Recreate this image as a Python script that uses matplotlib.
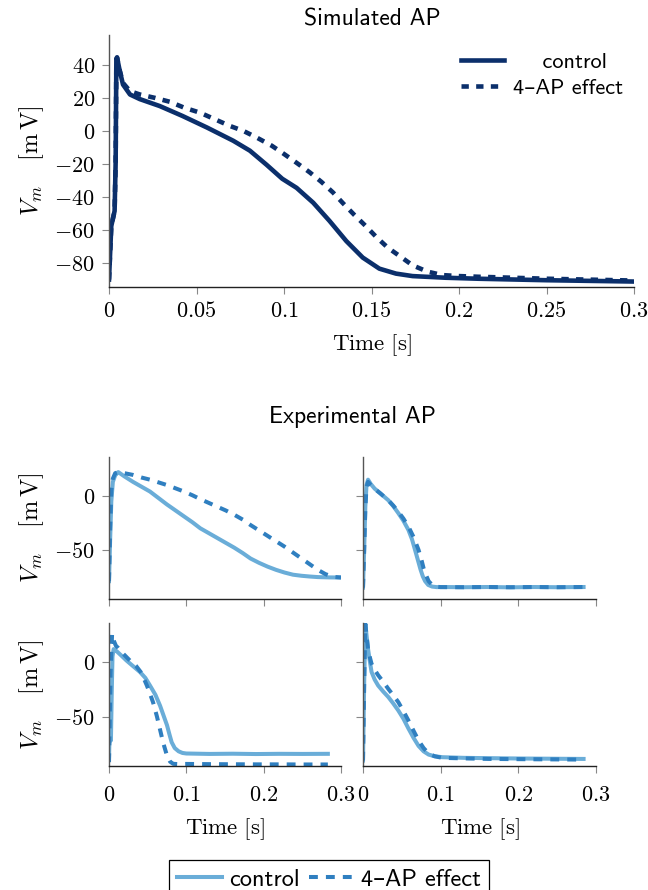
import matplotlib
matplotlib.use("Agg")
import matplotlib.pyplot as plt
from matplotlib.ticker import FuncFormatter, FixedLocator

plt.rcParams['mathtext.fontset'] = 'cm'
SANS = ['cmss10', 'DejaVu Sans']

# ---------------- data ----------------
sim_ctrl_t = [0, 0.0013, 0.0032, 0.0038, 0.0042, 0.0046, 0.006, 0.008, 0.012, 0.0176, 0.029, 0.042,
              0.056, 0.071, 0.0805, 0.09, 0.099, 0.1072, 0.1167, 0.126, 0.1356, 0.145, 0.1545, 0.164,
              0.1735, 0.1924, 0.211, 0.25, 0.3]
sim_ctrl_v = [-90, -57.6, -48.5, -19, 43.4, 44.4, 37, 28, 22, 19.2, 15, 9,
              2, -6, -12, -20.5, -29, -34.5, -43.5, -54.5, -66.7, -76.7, -83.4, -86.4,
              -87.9, -88.9, -89.5, -90.4, -91.2]

sim_4ap_t = [0, 0.0013, 0.0032, 0.0038, 0.0042, 0.0046, 0.006, 0.008, 0.012, 0.0176, 0.026, 0.0347,
             0.043, 0.052, 0.0605, 0.069, 0.0767, 0.0843, 0.093, 0.1, 0.107, 0.1148, 0.1214, 0.128,
             0.1337, 0.1403, 0.1466, 0.1527, 0.1593, 0.166, 0.1735, 0.182, 0.1905, 0.2, 0.211, 0.25, 0.3]
sim_4ap_v = [-90, -57.6, -48.5, -19, 43.4, 44.4, 37, 29, 24, 22, 20, 17.6,
             14, 11, 7, 3, 0, -4, -9, -14, -19.2, -25.2, -30.9, -37.3,
             -43.8, -51, -57.5, -64.2, -70.7, -75.7, -81.4, -85.2, -87.3, -87.9, -88.3, -89.5, -90.6]

# experimental panel 1 (top-left)
e1_ctrl_t = [0, 0.0015, 0.003, 0.005, 0.008, 0.012, 0.02, 0.031, 0.042, 0.053, 0.064, 0.075, 0.086,
             0.097, 0.108, 0.118, 0.129, 0.14, 0.151, 0.162, 0.173, 0.183, 0.194, 0.205, 0.216, 0.227,
             0.238, 0.249, 0.26, 0.27, 0.285, 0.3]
e1_ctrl_v = [-79, -40, -5, 13, 19, 22, 18, 13, 8.5, 4, -2, -8, -13.5,
             -19, -24.5, -30, -34.5, -39, -43.5, -48, -53, -58, -62, -65.5, -68.5, -71,
             -73, -74, -74.7, -75.2, -75.5, -75.6]
e1_4ap_t = [0, 0.0015, 0.003, 0.005, 0.008, 0.012, 0.02, 0.031, 0.042, 0.053, 0.064, 0.075, 0.086,
            0.097, 0.108, 0.118, 0.129, 0.14, 0.151, 0.162, 0.173, 0.183, 0.194, 0.205, 0.216, 0.227,
            0.238, 0.249, 0.26, 0.27, 0.28, 0.29, 0.3]
e1_4ap_v = [-79, -30, 5, 16, 21, 22, 21, 19.4, 17, 15, 12.5, 10, 7,
            4, 0.5, -3, -6.5, -10, -13.5, -17.5, -22, -27, -32, -37, -42, -47,
            -52.5, -58, -63.5, -68.5, -72.5, -75, -75.6]

# experimental panel 2 (top-right)
e2_ctrl_t = [0, 0.0015, 0.003, 0.0045, 0.0065, 0.01, 0.015, 0.022, 0.0325, 0.039, 0.0455, 0.052,
             0.0585, 0.063, 0.067, 0.0705, 0.074, 0.077, 0.08, 0.084, 0.089, 0.095, 0.102, 0.13,
             0.16, 0.19, 0.22, 0.25, 0.284]
e2_ctrl_v = [-85, -50, -10, 10, 15, 11, 6.7, 2.5, -4, -9.5, -16, -23,
             -31.6, -40, -50, -59, -68, -74.5, -79, -82.5, -84, -84.5, -84.4, -84.6,
             -84.4, -84.7, -84.4, -84.6, -84.4]
e2_4ap_t = [0, 0.0015, 0.003, 0.0045, 0.0065, 0.01, 0.015, 0.022, 0.0325, 0.039, 0.0455, 0.052,
            0.0585, 0.065, 0.0715, 0.075, 0.078, 0.0815, 0.0845, 0.089, 0.093, 0.1, 0.13, 0.16,
            0.19, 0.22, 0.25, 0.284]
e2_4ap_v = [-85, -50, -12, 8, 13, 10, 6.5, 2.5, -4, -9, -14.7, -21,
            -28.5, -38, -50, -58.5, -67, -74, -79, -82.5, -84, -84.5, -84.6, -84.4,
            -84.6, -84.4, -84.6, -84.4]

# experimental panel 3 (bottom-left)
e3_ctrl_t = [0, 0.0015, 0.0025, 0.0035, 0.0045, 0.006, 0.01, 0.016, 0.0226, 0.03, 0.04, 0.047, 0.053,
             0.06, 0.066, 0.07, 0.075, 0.078, 0.081, 0.085, 0.09, 0.095, 0.1, 0.13, 0.16, 0.19, 0.22,
             0.25, 0.283]
e3_ctrl_v = [-89, -45, -72, -30, 5, 12, 10, 6, 1.5, -3, -9, -14.5, -21.5,
             -30, -40, -48, -58, -66, -73.6, -79, -82, -83.5, -84, -84.4, -84.2, -84.5, -84.3,
             -84.4, -84.3]
e3_4ap_t = [0, 0.002, 0.004, 0.006, 0.009, 0.012, 0.018, 0.027, 0.035, 0.042, 0.049, 0.053, 0.057,
            0.062, 0.066, 0.07, 0.075, 0.079, 0.083, 0.09, 0.1, 0.13, 0.16, 0.19, 0.22, 0.25, 0.283]
e3_4ap_v = [-92, -10, 26, 20, 15, 13, 8, 1.5, -3.5, -10, -21.5, -29, -37,
            -50, -62, -74, -86, -91.5, -93.5, -93.8, -93.6, -93.8, -93.9, -94, -94, -94.1, -94.1]

# experimental panel 4 (bottom-right)
e4_ctrl_t = [0, 0.0015, 0.003, 0.0045, 0.0065, 0.009, 0.011, 0.015, 0.0195, 0.026, 0.0325, 0.039,
             0.0455, 0.052, 0.0585, 0.065, 0.0715, 0.078, 0.0845, 0.092, 0.102, 0.13, 0.162, 0.2,
             0.24, 0.284]
e4_ctrl_v = [-90.5, -20, 35, 25, 12, 0, -9, -16, -21.5, -27, -32, -38,
             -44.5, -52, -61, -69.5, -77, -82, -85, -86.5, -87.4, -88, -88.3, -88.6,
             -88.8, -89]
e4_4ap_t = [0, 0.0015, 0.003, 0.0045, 0.0065, 0.009, 0.011, 0.015, 0.0195, 0.026, 0.0325, 0.039,
            0.0455, 0.052, 0.0585, 0.065, 0.0715, 0.078, 0.0845, 0.092, 0.102, 0.13, 0.162, 0.2,
            0.24, 0.284]
e4_4ap_v = [-90.5, -20, 35, 25, 12, 4, -1.5, -7, -12, -18, -24.5, -30.5,
            -36.8, -45, -53.7, -63, -72, -79, -84, -86.5, -88, -88.5, -89, -89.2,
            -89.4, -89.6]

top_xticks = [0, 0.05, 0.1, 0.15, 0.2, 0.25, 0.3]
top_yticks = [-80, -60, -40, -20, 0, 20, 40]
exp_xticks = [0, 0.1, 0.2, 0.3]
exp_yticks = [-50, 0]

series_labels = ['control', '4\u2013AP effect']
title_sim = 'Simulated AP'
title_exp = 'Experimental AP'
xlabel = r'$\mathrm{Time\ [s]}$'
ylabel = r'$V_m\quad\,[\mathrm{m\,V}]$'

# ---------------- style ----------------
NAVY = '#0b2f6b'
LIGHT = '#6aadd8'
MID = '#2f7fc0'
TICK_FS = 16
LABEL_FS = 16.5
YLABEL_FS = 17.5

fmt = FuncFormatter(lambda v, p: '$%g$' % v)


def style_axes(ax, xticks, yticks, xlim, ylim, show_x=True, show_y=True, xpad=6):
    ax.set_xlim(*xlim)
    ax.set_ylim(*ylim)
    for s in ['top', 'right']:
        ax.spines[s].set_visible(False)
    ax.spines['bottom'].set_color('#222222')
    ax.spines['left'].set_color('#555555')
    ax.spines['bottom'].set_linewidth(1.0)
    ax.spines['left'].set_linewidth(1.0)
    ax.xaxis.set_major_locator(FixedLocator(xticks))
    ax.yaxis.set_major_locator(FixedLocator(yticks))
    ax.xaxis.set_major_formatter(fmt)
    ax.yaxis.set_major_formatter(fmt)
    ax.tick_params(direction='out', length=5, width=0.8, color='#888888',
                   labelsize=TICK_FS, pad=5)
    ax.tick_params(axis='x', pad=xpad)
    if not show_x:
        ax.tick_params(axis='x', labelbottom=False)
    if not show_y:
        ax.tick_params(axis='y', labelleft=False)


fig = plt.figure(figsize=(6.48, 8.90), dpi=100)

W, H = 648.0, 890.0
def rect(x0, x1, ytop, ybot):
    return [x0 / W, 1 - ybot / H, (x1 - x0) / W, (ybot - ytop) / H]

# ---- top (simulated) ----
ax0 = fig.add_axes(rect(109, 634, 35, 287))
ax0.plot(sim_ctrl_t, sim_ctrl_v, color=NAVY, lw=3.3, label=series_labels[0], solid_joinstyle='round')
ax0.plot(sim_4ap_t, sim_4ap_v, color=NAVY, lw=3.3, ls=(0, (1.6, 1.6)), label=series_labels[1])
style_axes(ax0, top_xticks, top_yticks, (0, 0.3), (-94.5, 58), xpad=5)
ax0.set_xlabel(xlabel, fontsize=LABEL_FS, labelpad=8)
ax0.set_ylabel(ylabel, fontsize=YLABEL_FS, labelpad=6)
leg0 = ax0.legend(['    ' + series_labels[0], series_labels[1]], loc='upper right',
                  frameon=False, handlelength=1.95, handletextpad=0.4, labelspacing=0.3,
                  prop={'family': SANS, 'size': 16}, borderaxespad=0.1,
                  bbox_to_anchor=(1.0, 0.975))
fig.text(372 / W, 1 - 19 / H, title_sim, ha='center', va='center', fontsize=17, family=SANS)

# ---- experimental panels ----
panels = [
    (e1_ctrl_t, e1_ctrl_v, e1_4ap_t, e1_4ap_v),
    (e2_ctrl_t, e2_ctrl_v, e2_4ap_t, e2_4ap_v),
    (e3_ctrl_t, e3_ctrl_v, e3_4ap_t, e3_4ap_v),
    (e4_ctrl_t, e4_ctrl_v, e4_4ap_t, e4_4ap_v),
]
rects = [rect(109, 341, 457, 599), rect(363, 596, 457, 599),
         rect(109, 341, 623, 766), rect(363, 596, 623, 766)]
exp_axes = []
for i, (ct, cv, at, av) in enumerate(panels):
    ax = fig.add_axes(rects[i])
    ax.plot(ct, cv, color=LIGHT, lw=2.9, label=series_labels[0], solid_joinstyle='round')
    ax.plot(at, av, color=MID, lw=2.9, ls=(0, (2.2, 2.0)), label=series_labels[1])
    style_axes(ax, exp_xticks, exp_yticks, (0, 0.3), (-95.5, 36),
               show_x=(i >= 2), show_y=(i % 2 == 0), xpad=9)
    if i % 2 == 0:
        ax.set_ylabel(ylabel, fontsize=YLABEL_FS, labelpad=6)
    if i >= 2:
        ax.set_xlabel(xlabel, fontsize=LABEL_FS, labelpad=8)
    exp_axes.append(ax)

fig.text(352 / W, 1 - 417 / H, title_exp, ha='center', va='center', fontsize=17, family=SANS)

handles, labels = exp_axes[0].get_legend_handles_labels()
fig.legend(handles, labels, loc='upper center', bbox_to_anchor=(329 / W, 1 - 848 / H),
           ncol=2, frameon=True, fancybox=False, edgecolor='black', framealpha=1,
           prop={'family': SANS, 'size': 17.5}, handlelength=1.85, handletextpad=0.3,
           columnspacing=0.35, borderpad=0.35)
fig.legends[0].get_frame().set_linewidth(0.9)

fig.savefig('out.png', dpi=100)
